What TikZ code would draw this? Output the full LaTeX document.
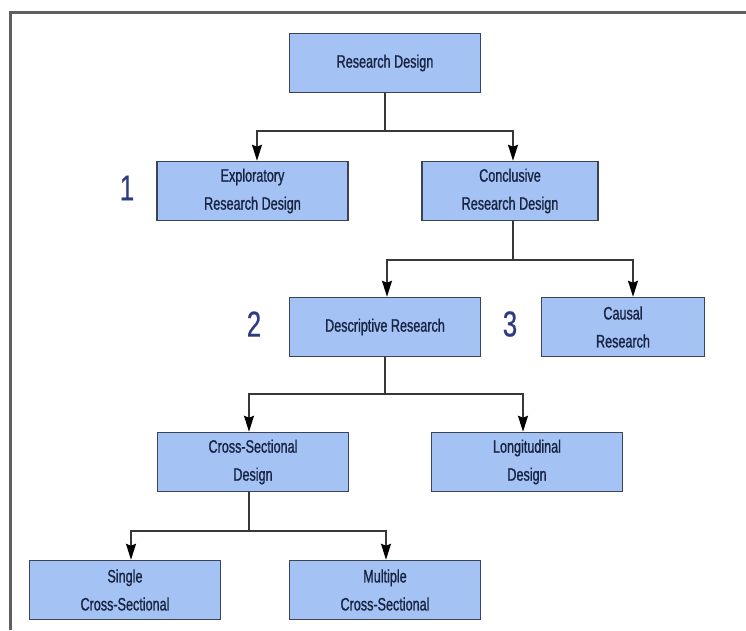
\documentclass[tikz,border=0pt]{standalone}
\usepackage{fontspec}
\setmainfont[FakeStretch=0.7,FakeBold=1.0]{Liberation Sans}
\newfontfamily\numfont[FakeStretch=0.72,FakeBold=0.4]{Liberation Sans}
\usetikzlibrary{arrows.meta}
\definecolor{boxfill}{RGB}{164,194,244}
\definecolor{boxline}{RGB}{58,68,86}
\definecolor{boxtext}{RGB}{24,36,66}
\definecolor{numcol}{RGB}{46,59,130}
\definecolor{framecol}{RGB}{95,95,95}
\definecolor{linecol}{RGB}{55,55,55}
\tikzset{
  stepbox/.style={draw=boxline, line width=1.5pt, fill=boxfill, text=boxtext,
    minimum width=191pt, minimum height=59pt, inner sep=0pt, align=center,
    font=\fontsize{18}{28}\selectfont},
  numlabel/.style={text=numcol, font=\numfont\fontsize{36}{36}\selectfont, inner sep=0pt},
  conn/.style={draw=linecol, line width=1.4pt},
  arr/.style={conn, -{Stealth[length=16pt,width=10pt,inset=2pt,fill=black,color=black]}}
}
\begin{document}
\begin{tikzpicture}[x=1pt,y=-1pt]
\useasboundingbox (0,0) rectangle (746,630);
\fill[white] (0,0) rectangle (746,630);
\draw[framecol, line width=2.2pt] (10.5,630) -- (10.5,12.5) -- (746,12.5);

\node[stepbox] (rd) at (385,63) {Research Design};
\node[stepbox] (ex) at (252.5,191) {Exploratory\\Research Design};
\node[stepbox, minimum width=176pt] (co) at (510,191) {Conclusive\\Research Design};
\node[stepbox] (de) at (385,327) {Descriptive Research};
\node[stepbox, minimum width=163pt] (ca) at (623,327) {Causal\\Research};
\node[stepbox] (cs) at (253,462) {Cross-Sectional\\Design};
\node[stepbox] (lo) at (527,462) {Longitudinal\\Design};
\node[stepbox] (si) at (125,590) {Single\\Cross-Sectional};
\node[stepbox] (mu) at (385,590) {Multiple\\Cross-Sectional};

\node[numlabel] (n1) at (127,188) {1};
\node[numlabel] (n2) at (254,324) {2};
\node[numlabel] (n3) at (510,324) {3};

\coordinate (j1) at (385,131);
\coordinate (j2) at (513,260);
\coordinate (j3) at (385,394);
\coordinate (j4) at (249,531);

\draw[conn] (rd.south) -- (j1);
\draw[arr] (j1) -| ([xshift=4.5pt]ex.north);
\draw[arr] (j1) -| ([xshift=3pt]co.north);

\draw[conn] (co.south -| j2) -- (j2);
\draw[arr] (j2) -| ([xshift=2pt]de.north);
\draw[arr] (j2) -| ([xshift=10pt]ca.north);

\draw[conn] (de.south) -- (j3);
\draw[arr] (j3) -| ([xshift=-4pt]cs.north);
\draw[arr] (j3) -| ([xshift=-4pt]lo.north);

\draw[conn] (cs.south -| j4) -- (j4);
\draw[arr] (j4) -| ([xshift=6pt]si.north);
\draw[arr] (j4) -| ([xshift=1pt]mu.north);
\end{tikzpicture}
\end{document}
